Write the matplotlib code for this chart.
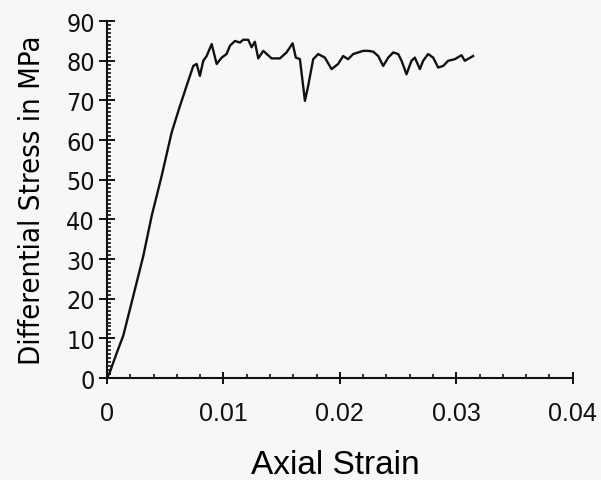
import numpy as np
import matplotlib
matplotlib.use("Agg")
import matplotlib.pyplot as plt
from matplotlib.ticker import MultipleLocator

# ---------------- data ----------------
strain = [0.0, 0.00025, 0.00054, 0.0009, 0.0014, 0.00226, 0.00312, 0.00384,
          0.0047, 0.00555, 0.0062, 0.00684, 0.00741, 0.00770, 0.00798, 0.00827,
          0.00856, 0.00899, 0.00942, 0.00985, 0.01027, 0.01056, 0.01099, 0.01142,
          0.01170, 0.01213, 0.01242, 0.01270, 0.01299, 0.01342, 0.01414, 0.01485,
          0.01542, 0.01594, 0.01622, 0.01657, 0.01700, 0.01728, 0.01771, 0.01814,
          0.01871, 0.01929, 0.01985, 0.02028, 0.02071, 0.02114, 0.02157, 0.02200,
          0.02243, 0.02286, 0.02329, 0.02372, 0.02415, 0.02458, 0.02501, 0.02530,
          0.02572, 0.02615, 0.02644, 0.02687, 0.02715, 0.02758, 0.02801, 0.02844,
          0.02887, 0.02930, 0.02987, 0.03045, 0.03073, 0.03144]
stress = [0.0, 1.5, 3.9, 6.8, 10.7, 20.7, 30.8, 40.9,
          51.0, 61.9, 68.0, 73.7, 78.7, 79.2, 76.2, 80.0,
          81.2, 84.2, 79.2, 80.8, 81.7, 83.8, 85.0, 84.6,
          85.3, 85.3, 83.4, 84.8, 80.6, 82.5, 80.6, 80.6,
          82.1, 84.4, 80.8, 80.4, 69.9, 73.7, 80.4, 81.7,
          80.8, 77.9, 79.2, 81.2, 80.4, 81.7, 82.1, 82.5,
          82.5, 82.3, 81.2, 78.7, 80.8, 82.1, 81.7, 80.0,
          76.6, 80.0, 80.8, 77.9, 80.0, 81.7, 80.8, 78.3,
          78.7, 80.0, 80.4, 81.4, 80.0, 81.2]

xticks = [0, 0.01, 0.02, 0.03, 0.04]
xticklabels = ["0", "0.01", "0.02", "0.03", "0.04"]
yticks = [0, 10, 20, 30, 40, 50, 60, 70, 80, 90]

# ---------------- figure ----------------
bg = "#f7f7f5"
ink = "#111111"
fig = plt.figure(figsize=(6.01, 4.81), dpi=100, facecolor=bg)
ax = fig.add_axes([0.178, 0.212, 0.775, 0.742])
ax.set_facecolor(bg)

ax.plot(strain, stress, color=ink, lw=1.7)

ax.set_xlim(0, 0.04)
ax.set_ylim(0, 90)
for s in ["top", "right"]:
    ax.spines[s].set_visible(False)
for s in ["left", "bottom"]:
    ax.spines[s].set_linewidth(1.5)
    ax.spines[s].set_color(ink)

sans = ["Liberation Sans", "DejaVu Sans"]

ax.set_xticks(xticks)
ax.set_xticklabels(xticklabels, fontsize=18, family=sans)
ax.set_yticks(yticks)
ax.set_yticklabels([str(v) for v in yticks], fontsize=18, family="DejaVu Sans",
                   fontstretch="condensed")
ax.xaxis.set_minor_locator(MultipleLocator(0.002))
ax.yaxis.set_minor_locator(MultipleLocator(1))

ax.tick_params(axis="x", which="major", direction="inout", length=9, width=1.4,
               pad=12, colors=ink)
ax.tick_params(axis="y", which="major", direction="inout", length=11, width=1.4,
               pad=3, colors=ink)
ax.tick_params(which="minor", direction="in", length=3, width=1.2, colors=ink)

ax.set_xlabel("Axial Strain", fontsize=24, family=sans, va="top")
ax.xaxis.set_label_coords(0.49, -0.2)
ax.set_ylabel("Differential Stress in MPa", fontsize=21, family="DejaVu Sans",
              fontstretch="condensed", va="center")
ax.yaxis.set_label_coords(-0.16, 0.5)

fig.savefig("out.png", dpi=100, facecolor=fig.get_facecolor())
